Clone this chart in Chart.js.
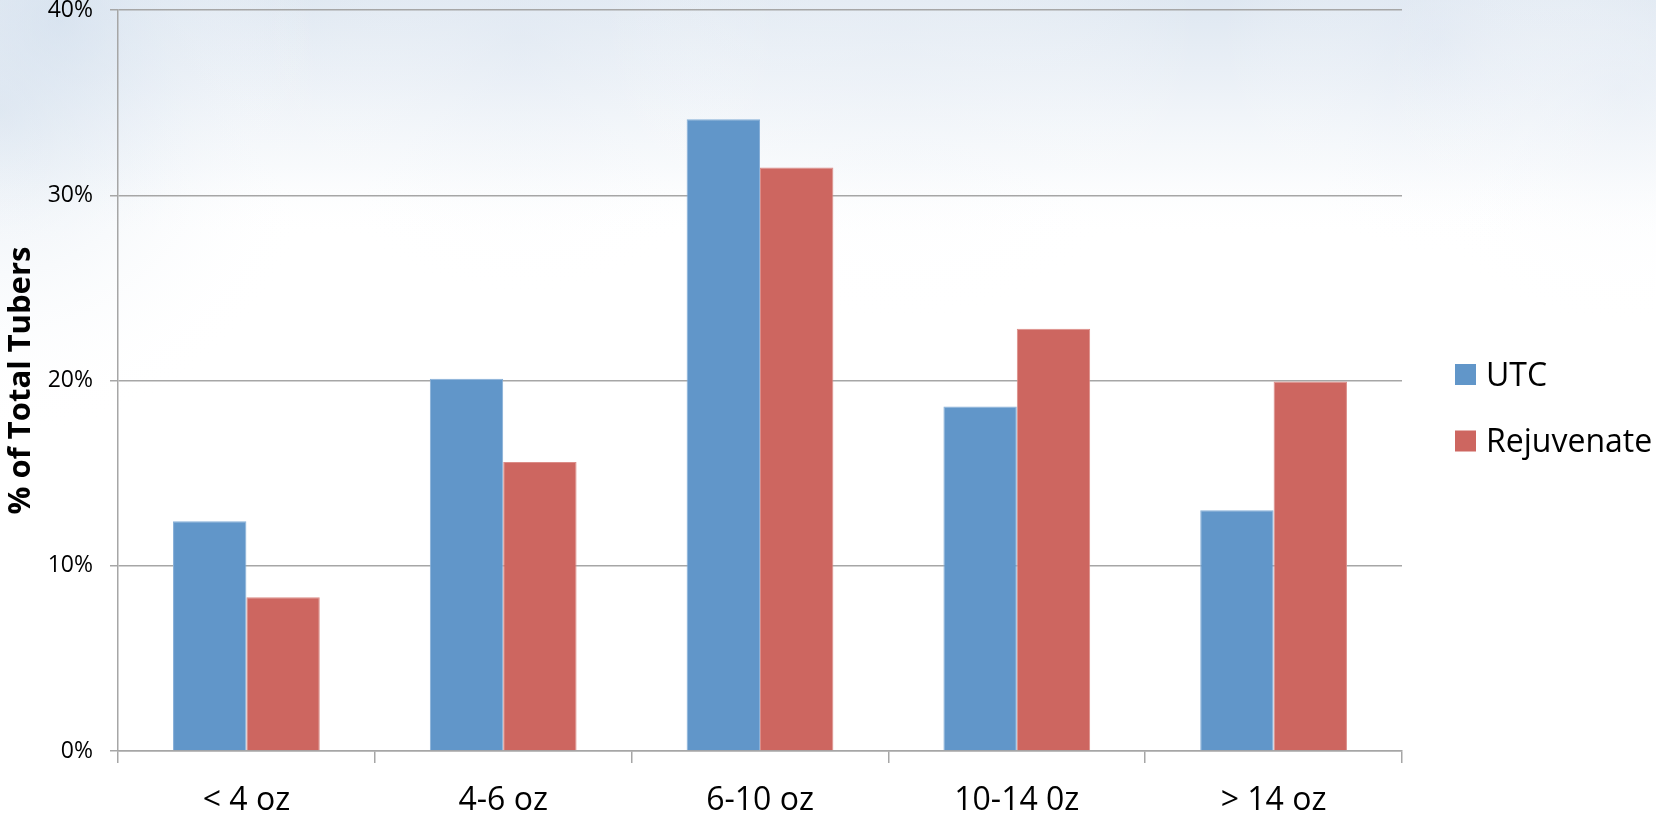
<!DOCTYPE html>
<html>
<head>
<meta charset="utf-8">
<title>% of Total Tubers by size class</title>
<style>
  html, body { margin: 0; padding: 0; background: #ffffff; overflow: hidden; }
  #wrap { width: 1656px; height: 819px; position: relative; }
  canvas { display: block; }
</style>
<script src="https://cdn.jsdelivr.net/npm/chart.js@4.4.1/dist/chart.umd.min.js"></script>
</head>
<body>
<div id="wrap"><canvas id="chart" width="1656" height="819"></canvas></div>
<script>
// Tuber size classes and share of total tubers (%) per treatment
const categories = ['< 4 oz', '4-6 oz', '6-10 oz', '10-14 0z', '> 14 oz'];
const utcValues = [12.4, 20.1, 34.1, 18.6, 13.0];
const rejuvenateValues = [8.3, 15.6, 31.5, 22.8, 19.95];
const seriesNames = ['UTC', 'Rejuvenate'];
const yTickValues = [0, 10, 20, 30, 40];
const yAxisTitle = '% of Total Tubers';

const FONT = '"Open Sans", "Noto Sans", "Liberation Sans", sans-serif';
const GRID = '#a6a6a6';

// Soft sky backdrop behind the whole chart
const skyBackdrop = {
  id: 'skyBackdrop',
  beforeDraw(chart) {
    const ctx = chart.ctx;
    const w = chart.width, h = chart.height;
    ctx.save();
    ctx.fillStyle = '#ffffff';
    ctx.fillRect(0, 0, w, h);
    let g = ctx.createLinearGradient(0, 0, 0, 240);
    g.addColorStop(0, 'rgba(222,231,241,1)');
    g.addColorStop(0.35, 'rgba(233,239,246,0.9)');
    g.addColorStop(0.7, 'rgba(245,248,251,0.7)');
    g.addColorStop(1, 'rgba(255,255,255,0)');
    ctx.fillStyle = g;
    ctx.fillRect(0, 0, w, 240);
    const blobs = [
      [0, 110, 330, 'rgba(205,219,234,0.55)'],
      [60, 20, 260, 'rgba(210,223,238,0.5)'],
      [520, 40, 260, 'rgba(228,235,244,0.45)'],
      [900, 30, 300, 'rgba(236,241,247,0.5)'],
      [1440, 40, 220, 'rgba(224,232,243,0.5)'],
      [1620, 90, 240, 'rgba(232,238,246,0.45)']
    ];
    for (const [x, y, r, c] of blobs) {
      const rg = ctx.createRadialGradient(x, y, 0, x, y, r);
      rg.addColorStop(0, c);
      rg.addColorStop(1, 'rgba(255,255,255,0)');
      ctx.fillStyle = rg;
      ctx.fillRect(x - r, y - r, 2 * r, 2 * r);
    }
    ctx.restore();
  }
};

// Square-swatch legend on the right
const sideLegend = {
  id: 'sideLegend',
  afterDraw(chart) {
    const ctx = chart.ctx;
    ctx.save();
    const x0 = 1455, box = 21, firstY = 364, step = 66.5;
    chart.data.datasets.forEach((ds, i) => {
      const y = firstY + i * step;
      ctx.fillStyle = ds.backgroundColor;
      ctx.fillRect(x0, y, box, box);
      ctx.fillStyle = '#000000';
      ctx.font = '32px ' + FONT;
      ctx.textAlign = 'left';
      ctx.textBaseline = 'middle';
      ctx.fillText(ds.label, x0 + 31, y + box / 2 + 2);
    });
    ctx.restore();
  }
};

new Chart(document.getElementById('chart'), {
  type: 'bar',
  data: {
    labels: categories,
    datasets: [
      {
        label: seriesNames[0],
        data: utcValues,
        backgroundColor: '#6196c9',
        borderColor: '#86afd8',
        borderWidth: 1,
        categoryPercentage: 2 / 3.5,
        barPercentage: 1.0
      },
      {
        label: seriesNames[1],
        data: rejuvenateValues,
        backgroundColor: '#cd6660',
        borderColor: '#dc8c87',
        borderWidth: 1,
        categoryPercentage: 2 / 3.5,
        barPercentage: 1.0
      }
    ]
  },
  options: {
    responsive: false,
    animation: false,
    devicePixelRatio: 1,
    layout: { padding: { top: 10, right: 254, bottom: 0, left: 0 } },
    plugins: {
      legend: { display: false },
      tooltip: { enabled: false }
    },
    scales: {
      x: {
        grid: {
          offset: true,
          drawOnChartArea: false,
          drawTicks: true,
          tickLength: 12,
          color: GRID,
          lineWidth: 1.5
        },
        border: { display: true, color: GRID, width: 1.5 },
        ticks: {
          color: '#000000',
          padding: 19,
          font: { family: FONT, size: 32 },
          maxRotation: 0
        },
        afterFit(scale) { scale.height = 68; }
      },
      y: {
        min: 0,
        max: 40,
        afterBuildTicks(scale) { scale.ticks = yTickValues.map(v => ({ value: v })); },
        grid: {
          drawTicks: true,
          tickLength: 8,
          color: GRID,
          lineWidth: 1.5
        },
        border: { display: true, color: GRID, width: 1.5 },
        ticks: {
          color: '#000000',
          padding: 17,
          font: { family: FONT, size: 23 },
          callback: v => v + '%'
        },
        title: {
          display: true,
          text: yAxisTitle,
          color: '#000000',
          font: { family: FONT, size: 31, weight: 'bold', lineHeight: 1.2 },
          padding: { top: 3, bottom: 0 }
        },
        afterFit(scale) {
          scale.width = 118;
          scale.paddingTop = 8;
          scale.paddingBottom = 8;
        }
      }
    }
  },
  plugins: [skyBackdrop, sideLegend]
});
</script>
</body>
</html>
